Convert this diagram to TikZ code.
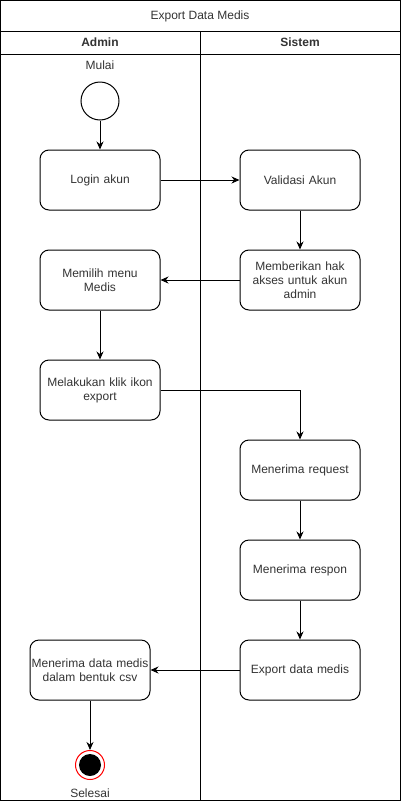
\documentclass[tikz,border=0pt]{standalone}
\usepackage{fontspec}
\setmainfont{Liberation Sans}
\usetikzlibrary{arrows.meta}
\definecolor{txtgray}{HTML}{333333}

\begin{document}
\begin{tikzpicture}[x=1pt, y=-1pt, line width=1pt, font=\fontsize{12}{14}\selectfont,
  action/.style={draw, rounded corners=9pt, minimum width=120pt, minimum height=60pt,
    text width=118pt, align=center, text=txtgray, inner sep=1pt},
  flow/.style={-{Stealth[length=8pt, width=7pt]}}]
  \useasboundingbox (0,0) rectangle (401,809);

  % Swimlane frame
  \draw (0.5,0.5) rectangle (400,800);
  \draw (0.5,31) -- (400,31);
  \draw (0.5,54) -- (400,54);
  \draw (200,31) -- (200,800);
  \node[text=txtgray] (title) at (200,16) {Export Data Medis};
  \node[font=\fontsize{12}{14}\selectfont\bfseries, text=txtgray] (laneA) at (100,42.5) {Admin};
  \node[font=\fontsize{12}{14}\selectfont\bfseries, text=txtgray] (laneS) at (300,42.5) {Sistem};

  % Start
  \node[text=txtgray] (mulaiLbl) at (100,65) {Mulai};
  \node[draw, circle, minimum size=38pt, inner sep=0pt] (start) at (100,101) {};

  % Admin actions
  \node[action] (login) at (100,180) {Login akun};
  \node[action] (menu) at (100,280) {Memilih menu\\Medis};
  \node[action] (klik) at (100,390) {Melakukan klik ikon\\export};
  \node[action] (csv) at (90,670) {Menerima data medis\\dalam bentuk csv};

  % Sistem actions
  \node[action] (validasi) at (300,180) {Validasi Akun};
  \node[action] (akses) at (300,280) {Memberikan hak\\akses untuk akun\\admin};
  \node[action] (request) at (300,470) {Menerima request};
  \node[action] (respon) at (300,570) {Menerima respon};
  \node[action] (export) at (300,670) {Export data medis};

  % End
  \node[draw=red, circle, minimum size=29pt, inner sep=0pt] (stop) at (90,765) {};
  \fill (stop) circle (11pt);
  \node[text=txtgray] (selesaiLbl) at (90,793) {Selesai};

  % Flow
  \draw[flow] (start) -- (login);
  \draw[flow] (login) -- (validasi);
  \draw[flow] (validasi) -- (akses);
  \draw[flow] (akses) -- (menu);
  \draw[flow] (menu) -- (klik);
  \draw[flow] (klik.east) -| (request.north);
  \draw[flow] (request) -- (respon);
  \draw[flow] (respon) -- (export);
  \draw[flow] (export) -- (csv);
  \draw[flow] (csv) -- (stop);
\end{tikzpicture}
\end{document}
